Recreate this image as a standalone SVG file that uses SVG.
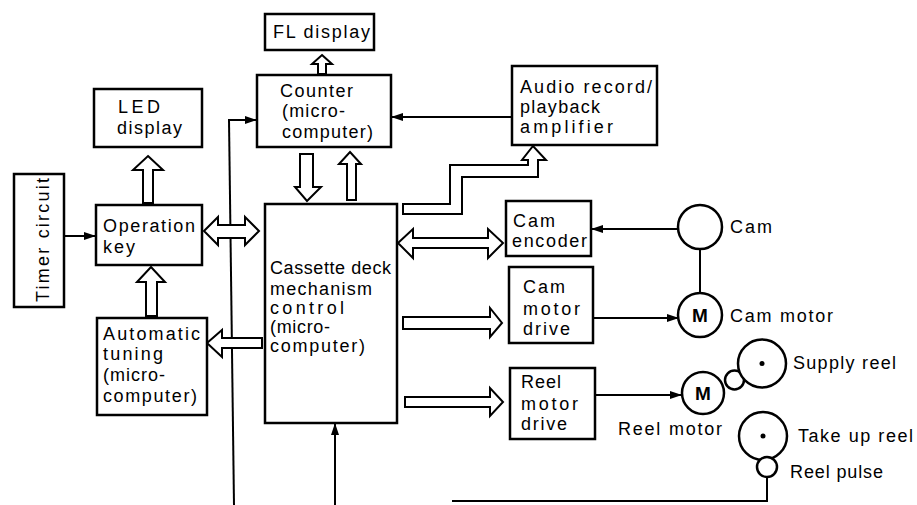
<svg xmlns="http://www.w3.org/2000/svg" width="917" height="505" viewBox="0 0 917 505">
<style>
.b{fill:#fff;stroke:#000;stroke-width:2.5}
.h{fill:#fff;stroke:#000;stroke-width:2;stroke-linejoin:miter}
.l{fill:none;stroke:#000;stroke-width:2}
.c{fill:#fff;stroke:#000;stroke-width:2.5}
text{font-family:"Liberation Sans",Arial,sans-serif;font-size:18px;fill:#000}
.m{font-weight:bold;font-size:19px;text-anchor:middle}
</style>
<defs>
<marker id="a" markerUnits="userSpaceOnUse" markerWidth="12" markerHeight="10" refX="11" refY="5" orient="auto">
<path d="M0,1 L12,5 L0,9 z" fill="#000"/>
</marker>
</defs>
<rect width="917" height="505" fill="#fff"/>
<g id="connectors">
<line class="l" x1="64" y1="236" x2="95" y2="236" marker-end="url(#a)"/>
<line class="l" x1="229" y1="120" x2="234" y2="505"/>
<line class="l" x1="228" y1="120" x2="256" y2="120" marker-end="url(#a)"/>
<line class="l" x1="511" y1="117" x2="392" y2="117" marker-end="url(#a)"/>
<line class="l" x1="678" y1="229" x2="592" y2="229" marker-end="url(#a)"/>
<line class="l" x1="700" y1="249" x2="700" y2="293"/>
<line class="l" x1="593" y1="318" x2="678" y2="318" marker-end="url(#a)"/>
<line class="l" x1="596" y1="395" x2="681" y2="395" marker-end="url(#a)"/>
<polyline class="l" points="767,477 767,501 452,501"/>
<line class="l" x1="335" y1="505" x2="335" y2="424" marker-end="url(#a)"/>
<polygon class="h" points="322,55 332,64 326,64 326,74 318,74 318,64 312,64"/>
<polygon class="h" points="148,156 163,170 153,170 153,203 143,203 143,170 133,170"/>
<polygon class="h" points="151,267 165,282 157,282 157,316 146,316 146,282 137,282"/>
<polygon class="h" points="204,231 218,217 218,225 245,225 245,217 259,231 245,245 245,238 218,238 218,245"/>
<polygon class="h" points="207,343 222,330 222,338 262,338 262,348 222,348 222,357"/>
<polygon class="h" points="300,154 313,154 313,187 321,187 307,201 295,187 300,187"/>
<polygon class="h" points="350,152 361,164 356,164 356,200 347,200 347,164 339,164"/>
<polygon class="h" points="403,204 450,204 450,165 528,165 528,160 522,160 533,146 546,160 538,160 538,177 462,177 462,214 403,214"/>
<polygon class="h" points="398,243 413,229 413,238 488,238 488,229 503,243 488,258 488,248 413,248 413,258"/>
<polygon class="h" points="403,317 490,317 490,308 502,323 490,337 490,329 403,329"/>
<polygon class="h" points="405,397 490,397 490,388 503,402 490,416 490,407 405,407"/>
</g>
<g id="fl-display">
<rect class="b" x="265" y="14" width="109" height="36"/>
<text x="273" y="38" textLength="97" lengthAdjust="spacing">FL display</text>
</g>
<g id="counter">
<rect class="b" x="257" y="75" width="134" height="72"/>
<text x="280" y="97" textLength="73" lengthAdjust="spacing">Counter</text>
<text x="282" y="117" textLength="63" lengthAdjust="spacing">(micro-</text>
<text x="282" y="138" textLength="91" lengthAdjust="spacing">computer)</text>
</g>
<g id="audio">
<rect class="b" x="512" y="66" width="145" height="79"/>
<text x="520" y="93" textLength="132" lengthAdjust="spacing">Audio record/</text>
<text x="520" y="113" textLength="80" lengthAdjust="spacing">playback</text>
<text x="520" y="133" textLength="93" lengthAdjust="spacing">amplifier</text>
</g>
<g id="led-display">
<rect class="b" x="94" y="89" width="108" height="58"/>
<text x="118" y="113" textLength="42" lengthAdjust="spacing">LED</text>
<text x="117" y="134" textLength="65" lengthAdjust="spacing">display</text>
</g>
<g id="timer">
<rect class="b" x="14" y="174" width="50" height="133"/>
<text transform="translate(49,302) rotate(-90)" textLength="124" lengthAdjust="spacing">Timer circuit</text>
</g>
<g id="operation-key">
<rect class="b" x="96" y="205" width="106" height="60"/>
<text x="103" y="232" textLength="92" lengthAdjust="spacing">Operation</text>
<text x="103" y="253" textLength="32" lengthAdjust="spacing">key</text>
</g>
<g id="auto-tuning">
<rect class="b" x="97" y="318" width="110" height="97"/>
<text x="103" y="340" textLength="97" lengthAdjust="spacing">Automatic</text>
<text x="103" y="360" textLength="60" lengthAdjust="spacing">tuning</text>
<text x="103" y="381" textLength="62" lengthAdjust="spacing">(micro-</text>
<text x="103" y="402" textLength="94" lengthAdjust="spacing">computer)</text>
</g>
<g id="cassette-control">
<rect class="b" x="265" y="204" width="132" height="219"/>
<text x="270" y="274" textLength="121" lengthAdjust="spacing">Cassette deck</text>
<text x="270" y="295" textLength="102" lengthAdjust="spacing">mechanism</text>
<text x="270" y="314" textLength="74" lengthAdjust="spacing">control</text>
<text x="270" y="333" textLength="60" lengthAdjust="spacing">(micro-</text>
<text x="270" y="352" textLength="95" lengthAdjust="spacing">computer)</text>
</g>
<g id="cam-encoder">
<rect class="b" x="506" y="201" width="85" height="55"/>
<text x="513" y="227" textLength="42" lengthAdjust="spacing">Cam</text>
<text x="512" y="247" textLength="75" lengthAdjust="spacing">encoder</text>
</g>
<g id="cam-motor-drive">
<rect class="b" x="509" y="267" width="84" height="76"/>
<text x="523" y="293" textLength="42" lengthAdjust="spacing">Cam</text>
<text x="523" y="315" textLength="57" lengthAdjust="spacing">motor</text>
<text x="523" y="335" textLength="47" lengthAdjust="spacing">drive</text>
</g>
<g id="reel-motor-drive">
<rect class="b" x="510" y="368" width="85" height="71"/>
<text x="521" y="388" textLength="40" lengthAdjust="spacing">Reel</text>
<text x="521" y="410" textLength="57" lengthAdjust="spacing">motor</text>
<text x="521" y="430" textLength="46" lengthAdjust="spacing">drive</text>
</g>
<g id="cam">
<circle class="c" cx="700" cy="227" r="22"/>
<text x="730" y="233" textLength="42" lengthAdjust="spacing">Cam</text>
</g>
<g id="cam-motor">
<circle class="c" cx="700" cy="315" r="22"/>
<text class="m" x="700" y="322">M</text>
<text x="730" y="322" textLength="103" lengthAdjust="spacing">Cam motor</text>
</g>
<g id="reel-motor">
<circle class="c" cx="703" cy="393" r="21"/>
<text class="m" x="703" y="400">M</text>
<text x="618" y="435" textLength="104" lengthAdjust="spacing">Reel motor</text>
</g>
<g id="idler">
<circle class="c" cx="734.5" cy="380" r="9.5"/>
</g>
<g id="supply-reel">
<circle class="c" cx="762" cy="363.5" r="24"/>
<circle cx="762" cy="363.5" r="2.5" fill="#000"/>
<text x="793" y="369" textLength="103" lengthAdjust="spacing">Supply reel</text>
</g>
<g id="take-up-reel">
<circle class="c" cx="763" cy="436" r="24"/>
<circle cx="763" cy="436" r="2.5" fill="#000"/>
<text x="798" y="442" textLength="115" lengthAdjust="spacing">Take up reel</text>
</g>
<g id="reel-pulse">
<circle class="c" cx="767" cy="467" r="10"/>
<text x="790" y="478" textLength="93" lengthAdjust="spacing">Reel pulse</text>
</g>
</svg>
